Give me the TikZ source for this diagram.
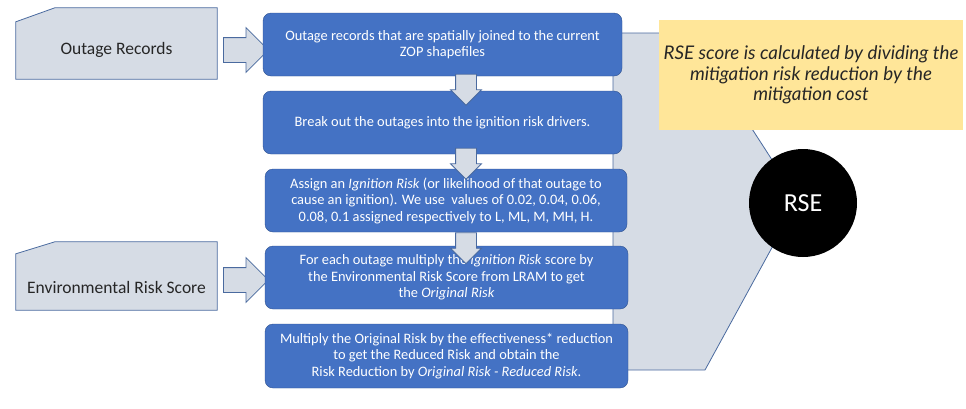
\documentclass[tikz,border=0pt]{standalone}
\usepackage{fontspec}
\setmainfont{Carlito}
\newfontfamily\latofont{Lato}
\usetikzlibrary{shapes.arrows,calc}
\definecolor{boxblue}{HTML}{4472C4}
\definecolor{boxedge}{HTML}{2F528F}
\definecolor{greyfill}{HTML}{D6DCE5}
\definecolor{greyedge}{HTML}{4A6A9F}
\definecolor{notefill}{HTML}{FFE699}
\definecolor{inktext}{HTML}{262626}

\begin{document}
\begin{tikzpicture}[x=1pt,y=-1pt,
  stepbox/.style={draw=boxedge, fill=boxblue, rounded corners=8pt, text=white, align=center,
    font=\fontsize{14.4}{16.5}\selectfont, minimum height=63pt, inner sep=0pt},
  greyshape/.style={draw=greyedge, fill=greyfill, line width=0.8pt},
  inshape/.style={minimum width=201pt, inner sep=0pt},
  inlabel/.style={text=inktext, font=\fontsize{17.5}{20}\selectfont},
  downarrow/.style={single arrow, greyshape, rotate=-90, minimum height=31pt, minimum width=30pt,
    single arrow head extend=5pt, inner xsep=0pt, inner ysep=10pt},
  rightarrow/.style={single arrow, greyshape, minimum height=45pt, minimum width=44pt,
    single arrow head extend=10pt, inner xsep=0pt, inner ysep=12pt}]
\useasboundingbox (0,0) rectangle (966,408);

\draw[greyshape] (613,33) -- (690,33) -- (798,200) -- (705,370) -- (613,370) -- cycle;
\node[fill=notefill, minimum width=304pt, minimum height=110pt, inner sep=1pt, align=center, text=inktext,
  font=\latofont\itshape\fontsize{18.8}{20.5}\selectfont] (note) at (811,75)
  {RSE score is calculated by dividing the\\mitigation risk reduction by the\\mitigation cost};
\node[circle, fill=black, minimum size=108pt, text=white, font=\fontsize{26}{30}\selectfont] (rse) at (803,203) {RSE};

\node[inshape, minimum height=71pt] (orec) at (116.5,43.5) {};
\draw[greyshape] (orec.south west) -- ($(orec.north west)+(0,14)$) -- ($(orec.north west)+(39,0)$)
  -- (orec.north east) -- (orec.south east) -- cycle;
\node[inlabel] (oreclabel) at ($(orec.center)+(0,6)$) {Outage Records};
\node[rightarrow] (orecarrow) at ($(orec.east)+(22.5,6.5)$) {};

\node[inshape, minimum height=68pt] (envr) at (116.5,276) {};
\draw[greyshape] (envr.south west) -- ($(envr.north west)+(0,12)$) -- ($(envr.north west)+(39,0)$)
  -- (envr.north east) -- (envr.south east) -- cycle;
\node[inlabel] (envrlabel) at ($(envr.center)+(0,11)$) {Environmental Risk Score};
\node[rightarrow] (envrarrow) at ($(envr.east)+(22.5,4)$) {};

\node[stepbox, minimum width=359pt] (b1) at (442.5,44.5)
  {Outage records that are spatially joined to the current\\ZOP shapefiles};
\node[stepbox, minimum width=359pt] (b2) at (442.5,122.5)
  {Break out the outages into the ignition risk drivers.};
\node[stepbox, minimum width=362pt] (b3) at (446,200.5)
  {Assign an \emph{Ignition Risk} (or likelihood of that outage to\\cause an ignition). We use~ values of 0.02, 0.04, 0.06,\\0.08, 0.1 assigned respectively to L, ML, M, MH, H.};
\node[stepbox, minimum width=363pt] (b4) at (446.5,277.5)
  {For each outage multiply the \emph{Ignition Risk} score by\\the Environmental Risk Score from LRAM to get\\the \emph{Original Risk}};
\node[stepbox, minimum width=363pt, minimum height=64pt] (b5) at (446.5,356)
  {Multiply the Original Risk by the effectiveness* reduction\\to get the Reduced Risk and obtain the\\Risk Reduction by \emph{Original Risk - Reduced Risk}.};

\node[downarrow] (d12) at (466,84.5) {};
\node[downarrow] (d23) at (466,158.5) {};
\node[downarrow] (d34) at (466,243) {};
\end{tikzpicture}
\end{document}
